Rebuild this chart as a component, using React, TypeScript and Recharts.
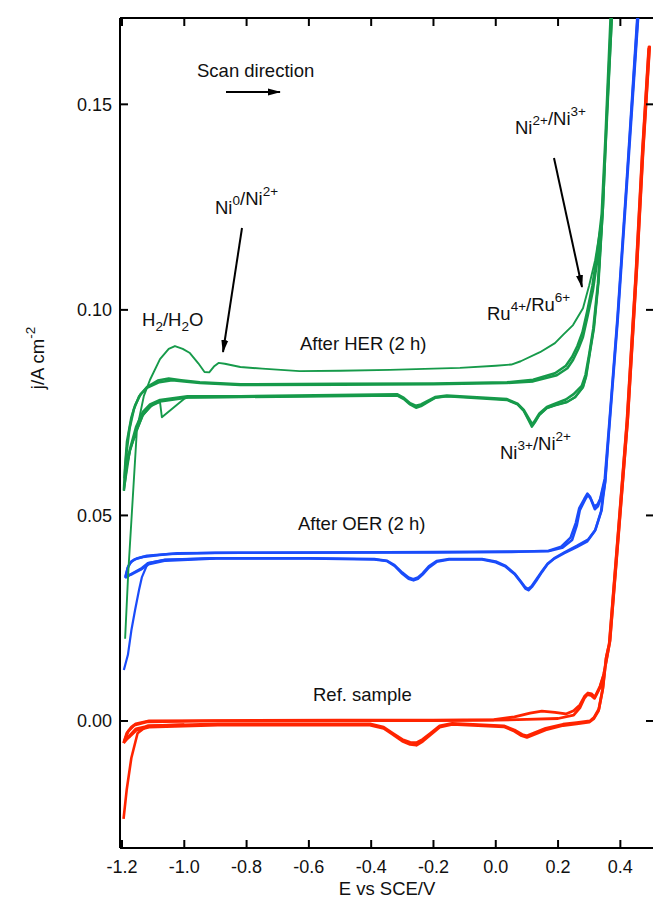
import React from "react";
import { LineChart, Line, XAxis, YAxis, ReferenceLine } from "recharts";

// potential (V vs SCE), current density (A cm^-2)
const xTicks = [-1.2, -1.0, -0.8, -0.6, -0.4, -0.2, 0.0, 0.2, 0.4];
const yTicks = [0.0, 0.05, 0.1, 0.15];

type P = { x: number; y: number };
const pts = (a: number[][]): P[] => a.map(([x, y]) => ({ x, y }));

// After HER (2 h) - first cycle, with the H2/H2O and Ni0/Ni2+ features
const greenFirst = pts([
  [-1.19, 0.020], [-1.18, 0.036], [-1.168, 0.051], [-1.152, 0.071], [-1.13, 0.079], [-1.11, 0.083],
  [-1.078, 0.088], [-1.05, 0.0905], [-1.03, 0.0912], [-1.005, 0.0905], [-0.982, 0.0895], [-0.955, 0.087],
  [-0.935, 0.0849], [-0.92, 0.0848], [-0.905, 0.0862], [-0.89, 0.0871], [-0.87, 0.0869], [-0.82, 0.0861],
  [-0.75, 0.0857], [-0.63, 0.0851], [-0.5, 0.0852], [-0.34, 0.0854], [-0.2, 0.0857], [-0.115, 0.0859],
  [0.0, 0.0864], [0.05, 0.0867], [0.08, 0.0875], [0.142, 0.0897], [0.19, 0.0919], [0.216, 0.0939],
  [0.248, 0.0963], [0.28, 0.1004], [0.3, 0.106], [0.319, 0.1121], [0.341, 0.1223], [0.357, 0.1466],
  [0.374, 0.172],
  [0.372, 0.172], [0.359, 0.150], [0.345, 0.125], [0.33, 0.107], [0.315, 0.0955], [0.302, 0.0895],
  [0.29, 0.0838], [0.28, 0.0812], [0.255, 0.0787], [0.229, 0.0776], [0.19, 0.0768], [0.164, 0.0761],
  [0.14, 0.0744], [0.125, 0.0727], [0.116, 0.0718], [0.105, 0.0733], [0.09, 0.0755], [0.07, 0.0771],
  [0.036, 0.0781], [-0.05, 0.0786], [-0.157, 0.079], [-0.195, 0.0786], [-0.22, 0.0776], [-0.24, 0.0767],
  [-0.258, 0.0764], [-0.275, 0.0771], [-0.295, 0.0784], [-0.317, 0.0792], [-0.5, 0.0791], [-0.82, 0.0788],
  [-0.988, 0.0787], [-1.0, 0.0784], [-1.072, 0.0739], [-1.078, 0.0776], [-1.1, 0.077], [-1.133, 0.0744],
  [-1.155, 0.070], [-1.174, 0.0659], [-1.194, 0.056],
]);

const greenCycle2 = pts([
  [-1.194, 0.056], [-1.19, 0.062], [-1.184, 0.068], [-1.17, 0.0738], [-1.158, 0.0768], [-1.14, 0.0795],
  [-1.12, 0.081], [-1.08, 0.0824], [-1.039, 0.0829], [-1.0, 0.0826], [-0.95, 0.0822], [-0.82, 0.0817],
  [-0.5, 0.0818], [-0.2, 0.0819], [0.036, 0.0822], [0.12, 0.0826], [0.196, 0.0841], [0.23, 0.0858],
  [0.248, 0.0878], [0.265, 0.0905], [0.28, 0.0934], [0.295, 0.0985], [0.312, 0.1048], [0.328, 0.113],
  [0.341, 0.1223], [0.357, 0.1466], [0.373, 0.172],
  [0.371, 0.172], [0.358, 0.150], [0.344, 0.125], [0.33, 0.107], [0.315, 0.0955], [0.302, 0.0895],
  [0.29, 0.0838], [0.28, 0.0812], [0.255, 0.0788], [0.229, 0.0776], [0.19, 0.0768], [0.164, 0.0761],
  [0.14, 0.0745], [0.125, 0.0726], [0.116, 0.0716], [0.106, 0.0731], [0.09, 0.0754], [0.07, 0.077],
  [0.036, 0.0781], [-0.157, 0.079], [-0.195, 0.0786], [-0.22, 0.0775], [-0.24, 0.0766], [-0.256, 0.0762],
  [-0.275, 0.077], [-0.295, 0.0783], [-0.317, 0.0792], [-0.82, 0.0788], [-0.988, 0.0787], [-1.078, 0.0777],
  [-1.11, 0.0765], [-1.133, 0.0744], [-1.155, 0.0705], [-1.174, 0.0659], [-1.185, 0.062], [-1.194, 0.056],
]);

const greenCycle3 = pts([
  [-1.192, 0.059], [-1.186, 0.065], [-1.176, 0.071], [-1.162, 0.0758], [-1.145, 0.079], [-1.12, 0.0812],
  [-1.085, 0.0828], [-1.05, 0.0833], [-1.01, 0.0829], [-0.95, 0.0824], [-0.82, 0.0819], [-0.5, 0.082],
  [-0.2, 0.0821], [0.036, 0.0824], [0.12, 0.083], [0.19, 0.0846], [0.225, 0.0864], [0.245, 0.0886],
  [0.262, 0.0912], [0.278, 0.0945], [0.293, 0.0995], [0.31, 0.1058], [0.326, 0.114], [0.34, 0.1233],
  [0.356, 0.148], [0.371, 0.172],
  [0.369, 0.172], [0.356, 0.149], [0.342, 0.124], [0.328, 0.1065], [0.313, 0.0955], [0.3, 0.0893],
  [0.288, 0.0842], [0.276, 0.0815], [0.25, 0.0795], [0.225, 0.0782], [0.19, 0.0772], [0.164, 0.0764],
  [0.14, 0.0748], [0.126, 0.0731], [0.117, 0.0722], [0.106, 0.0736], [0.09, 0.0757], [0.07, 0.0772],
  [0.036, 0.0783], [-0.157, 0.0792], [-0.195, 0.0788], [-0.22, 0.0778], [-0.24, 0.077], [-0.257, 0.0767],
  [-0.275, 0.0773], [-0.295, 0.0786], [-0.317, 0.0795], [-0.82, 0.079], [-0.99, 0.079], [-1.078, 0.0781],
  [-1.11, 0.077], [-1.133, 0.0752], [-1.155, 0.0715], [-1.172, 0.0668], [-1.184, 0.063], [-1.192, 0.059],
]);

// After OER (2 h)
const blueFirst = pts([
  [-1.194, 0.0124], [-1.181, 0.0161], [-1.17, 0.022], [-1.158, 0.027], [-1.145, 0.032], [-1.136, 0.035],
  [-1.117, 0.0384], [-1.062, 0.0392], [-0.9, 0.0396],
]);

const blueCycle1 = pts([
  [-1.19, 0.0348], [-1.182, 0.0372], [-1.174, 0.0384], [-1.16, 0.0393], [-1.133, 0.0399], [-1.08, 0.0404],
  [-1.023, 0.0408], [-0.82, 0.0409], [-0.5, 0.041], [-0.2, 0.0411], [0.05, 0.0412], [0.168, 0.0413],
  [0.213, 0.0421], [0.245, 0.044], [0.26, 0.0475], [0.27, 0.0513], [0.286, 0.0537], [0.296, 0.055],
  [0.305, 0.054], [0.318, 0.0515], [0.328, 0.0522], [0.335, 0.0537], [0.351, 0.0586], [0.367, 0.0737],
  [0.392, 0.098], [0.421, 0.1304], [0.458, 0.172],
  [0.456, 0.172], [0.42, 0.130], [0.391, 0.0975], [0.366, 0.0732], [0.352, 0.0585], [0.345, 0.0545],
  [0.34, 0.0513], [0.32, 0.0465], [0.296, 0.0441], [0.26, 0.0426], [0.222, 0.0411], [0.19, 0.0397],
  [0.168, 0.0384], [0.15, 0.0366], [0.13, 0.0344], [0.115, 0.0328], [0.104, 0.0321], [0.094, 0.0326],
  [0.08, 0.034], [0.06, 0.0359], [0.03, 0.0378], [0.0, 0.0388], [-0.044, 0.0394], [-0.15, 0.0394],
  [-0.19, 0.0389], [-0.215, 0.0376], [-0.235, 0.0359], [-0.25, 0.0349], [-0.265, 0.0345], [-0.28, 0.0349],
  [-0.3, 0.0361], [-0.325, 0.0379], [-0.35, 0.039], [-0.39, 0.0394], [-0.6, 0.0396], [-0.9, 0.0396],
  [-1.062, 0.0392], [-1.117, 0.0384], [-1.136, 0.0372], [-1.165, 0.036], [-1.19, 0.0348],
]);

const blueCycle2 = pts([
  [-1.188, 0.0352], [-1.18, 0.0376], [-1.17, 0.0388], [-1.15, 0.0396], [-1.12, 0.0402], [-1.05, 0.0406],
  [-0.9, 0.0409], [-0.5, 0.041], [-0.2, 0.041], [0.05, 0.0411], [0.17, 0.0414], [0.21, 0.0424],
  [0.24, 0.0446], [0.257, 0.0482], [0.268, 0.0518], [0.284, 0.054], [0.294, 0.0553], [0.303, 0.0545],
  [0.316, 0.0522], [0.327, 0.0527], [0.335, 0.054], [0.35, 0.059], [0.366, 0.074], [0.391, 0.0985],
  [0.42, 0.131], [0.457, 0.172],
  [0.455, 0.172], [0.419, 0.1298], [0.39, 0.097], [0.365, 0.0728], [0.351, 0.0582], [0.343, 0.0542],
  [0.338, 0.051], [0.318, 0.0462], [0.294, 0.0437], [0.258, 0.0422], [0.22, 0.0408], [0.188, 0.0395],
  [0.166, 0.0381], [0.148, 0.0362], [0.13, 0.0341], [0.116, 0.0326], [0.105, 0.0318], [0.095, 0.0322],
  [0.082, 0.0336], [0.062, 0.0356], [0.03, 0.0376], [0.0, 0.0386], [-0.044, 0.0393], [-0.15, 0.0393],
  [-0.19, 0.0387], [-0.215, 0.0373], [-0.235, 0.0356], [-0.25, 0.0346], [-0.264, 0.0342], [-0.28, 0.0346],
  [-0.3, 0.0358], [-0.325, 0.0377], [-0.35, 0.0389], [-0.39, 0.0393], [-0.6, 0.0395], [-0.9, 0.0395],
  [-1.06, 0.039], [-1.115, 0.0381], [-1.14, 0.0368], [-1.168, 0.0357], [-1.188, 0.0352],
]);

// Ref. sample
const redFirst = pts([
  [-1.195, -0.0238], [-1.185, -0.0168], [-1.17, -0.009], [-1.15, -0.003], [-1.12, -0.0012], [-1.0, -0.0009],
]);

const redCycle1 = pts([
  [-1.195, -0.0054], [-1.185, -0.003], [-1.17, -0.0015], [-1.156, -0.0007], [-1.113, 0.0], [-0.9, 0.0001],
  [-0.5, 0.0002], [-0.2, 0.0002], [-0.006, 0.0003], [0.06, 0.001], [0.11, 0.0019], [0.148, 0.0024],
  [0.19, 0.0021], [0.225, 0.0017], [0.25, 0.0025], [0.27, 0.0039], [0.285, 0.006], [0.296, 0.0068],
  [0.308, 0.0066], [0.318, 0.0058], [0.335, 0.0085], [0.347, 0.0114], [0.367, 0.0197], [0.395, 0.046],
  [0.424, 0.0737], [0.453, 0.1102], [0.473, 0.1386], [0.494, 0.164],
  [0.492, 0.164], [0.471, 0.1382], [0.451, 0.1098], [0.422, 0.0733], [0.393, 0.0455],
  [0.365, 0.019], [0.355, 0.0156], [0.344, 0.008], [0.331, 0.0029], [0.315, 0.0008], [0.302, 0.0],
  [0.26, -0.0004], [0.216, -0.0008], [0.16, -0.0018], [0.12, -0.003], [0.1, -0.0036], [0.085, -0.0033],
  [0.06, -0.0022], [0.026, -0.0012], [-0.14, -0.0006], [-0.18, -0.0012], [-0.21, -0.003], [-0.235, -0.0045],
  [-0.255, -0.0053], [-0.275, -0.0052], [-0.3, -0.0045], [-0.33, -0.003], [-0.36, -0.0015], [-0.404, -0.0007],
  [-0.892, -0.0007], [-1.113, -0.0012], [-1.155, -0.0019], [-1.175, -0.0035], [-1.195, -0.0054],
]);

const redCycle2 = pts([
  [-1.192, -0.0048], [-1.18, -0.0025], [-1.16, -0.001], [-1.12, -0.0002], [-0.9, 0.0], [-0.5, 0.0001],
  [-0.2, 0.0001], [0.0, 0.0002], [0.1, 0.0004], [0.2, 0.0006], [0.25, 0.0014], [0.27, 0.0032],
  [0.284, 0.0055], [0.294, 0.0064], [0.306, 0.0062], [0.317, 0.0055], [0.334, 0.008], [0.346, 0.011],
  [0.366, 0.0192], [0.394, 0.0455], [0.423, 0.073], [0.452, 0.1095], [0.472, 0.138], [0.493, 0.1635],
  [0.491, 0.1635], [0.47, 0.1378], [0.45, 0.1092], [0.421, 0.0728], [0.392, 0.045],
  [0.364, 0.0186], [0.354, 0.0152], [0.343, 0.0076], [0.33, 0.0025], [0.314, 0.0005], [0.3, -0.0003],
  [0.26, -0.0007], [0.216, -0.0011], [0.16, -0.0022], [0.12, -0.0034], [0.1, -0.004], [0.083, -0.0036],
  [0.06, -0.0025], [0.026, -0.0014], [-0.14, -0.0008], [-0.18, -0.0015], [-0.21, -0.0034], [-0.235, -0.005],
  [-0.255, -0.0059], [-0.275, -0.0057], [-0.3, -0.0049], [-0.33, -0.0033], [-0.36, -0.0018], [-0.404, -0.001],
  [-0.892, -0.001], [-1.113, -0.0015], [-1.155, -0.0023], [-1.175, -0.0038], [-1.192, -0.0048],
]);

const GREEN = "#169a4a";
const BLUE = "#1a4cfa";
const RED = "#ff2400";
const FONT = "'Liberation Sans', Arial, sans-serif";

const axisLine = { stroke: "#000", strokeWidth: 2 };
const xDomain: [number, number] = [-1.2064, 0.508];
const yDomain: [number, number] = [-0.0309, 0.171];

// chart box (must match LineChart size / margins / YAxis width below)
const CH_W = 664;
const MARGIN = { top: 18, right: 10, bottom: 0, left: 0 };
const Y_W = 120;
const X_H = 56;
const plot = {
  left: MARGIN.left + Y_W,
  right: CH_W - MARGIN.right,
  top: MARGIN.top,
  bottom: 904 - MARGIN.bottom - X_H,
};
const sx = (v: number) => plot.left + ((v - xDomain[0]) / (xDomain[1] - xDomain[0])) * (plot.right - plot.left);
const sy = (v: number) => plot.top + ((yDomain[1] - v) / (yDomain[1] - yDomain[0])) * (plot.bottom - plot.top);

// inward tick marks drawn by each axis' tick renderer (tickSize 0, tickMargin M)
const M = 14;
const TL = 8;
const lbl = { fontSize: 18, fill: "#111", fontFamily: FONT };

function BottomTick(p: any) {
  const ay = p.y - M;
  return (
    <g>
      <line x1={p.x} y1={ay} x2={p.x} y2={ay - TL} stroke="#000" strokeWidth={2} />
      <text x={p.x} y={ay + 25} textAnchor="middle" {...lbl}>{Number(p.payload.value).toFixed(1)}</text>
    </g>
  );
}
function LeftTick(p: any) {
  const ax = p.x + M;
  return (
    <g>
      <line x1={ax} y1={p.y} x2={ax + TL} y2={p.y} stroke="#000" strokeWidth={2} />
      <text x={ax - 8} y={p.y + 6.5} textAnchor="end" {...lbl}>{Number(p.payload.value).toFixed(2)}</text>
    </g>
  );
}

const series: { data: P[]; color: string; width: number }[] = [
  { data: redFirst, color: RED, width: 2.6 },
  { data: redCycle1, color: RED, width: 2.8 },
  { data: redCycle2, color: RED, width: 2.8 },
  { data: blueFirst, color: BLUE, width: 2.2 },
  { data: blueCycle1, color: BLUE, width: 2.5 },
  { data: blueCycle2, color: BLUE, width: 2.5 },
  { data: greenFirst, color: GREEN, width: 1.9 },
  { data: greenCycle2, color: GREEN, width: 2.5 },
  { data: greenCycle3, color: GREEN, width: 2.5 },
];

function Sup({ base, sup, dy = 9 }: { base: string; sup: string; dy?: number }) {
  return (
    <>
      <tspan>{base}</tspan>
      <tspan dy={-dy} fontSize={13.5}>{sup}</tspan>
      <tspan dy={dy}></tspan>
    </>
  );
}

function Annotations() {
  const t = { fontSize: 18.5, fill: "#111", fontFamily: FONT };
  return (
    <svg width={653} height={904} style={{ position: "absolute", left: 0, top: 0, pointerEvents: "none" }}>
      <defs>
        <marker id="ah" markerWidth="13" markerHeight="8" refX="12" refY="4" orient="auto" markerUnits="userSpaceOnUse">
          <path d="M0,0.5 L13,4 L0,7.5 z" fill="#000" />
        </marker>
      </defs>

      {/* mirrored inward ticks on the top and right edges of the box */}
      {xTicks.map((v) => (
        <line key={"tt" + v} x1={sx(v)} y1={plot.top} x2={sx(v)} y2={plot.top + TL} stroke="#000" strokeWidth={2} />
      ))}
      {yTicks.map((v) => (
        <line key={"rt" + v} x1={plot.right} y1={sy(v)} x2={plot.right - TL} y2={sy(v)} stroke="#000" strokeWidth={2} />
      ))}

      <text x={197} y={77} {...t}>Scan direction</text>
      <line x1={226} y1={92} x2={280} y2={92} stroke="#000" strokeWidth={2} markerEnd="url(#ah)" />

      <text x={215} y={214} {...t}>
        <Sup base="Ni" sup="0" />
        <Sup base="/Ni" sup="2+" />
      </text>
      <line x1={242} y1={228} x2={223} y2={352} stroke="#000" strokeWidth={2} markerEnd="url(#ah)" />

      <text x={515} y={134} {...t}>
        <Sup base="Ni" sup="2+" />
        <Sup base="/Ni" sup="3+" />
      </text>
      <line x1={554} y1={158} x2={582} y2={287} stroke="#000" strokeWidth={2} markerEnd="url(#ah)" />

      <text x={487} y={320} {...t}>
        <Sup base="Ru" sup="4+" />
        <Sup base="/Ru" sup="6+" />
      </text>

      <text x={142} y={326} {...t}>
        <tspan>H</tspan>
        <tspan dy={5} fontSize={13.5}>2</tspan>
        <tspan dy={-5}>/H</tspan>
        <tspan dy={5} fontSize={13.5}>2</tspan>
        <tspan dy={-5}>O</tspan>
      </text>

      <text x={300} y={350} {...t}>After HER (2 h)</text>

      <text x={500} y={459} {...t}>
        <Sup base="Ni" sup="3+" />
        <Sup base="/Ni" sup="2+" />
      </text>

      <text x={298} y={530} {...t}>After OER (2 h)</text>
      <text x={313} y={701} {...t}>Ref. sample</text>

      <text x={387} y={895} textAnchor="middle" {...t}>E vs SCE/V</text>
      <text x={0} y={0} transform="translate(44,358) rotate(-90)" textAnchor="middle" {...t}>
        <tspan>j/A cm</tspan>
        <tspan dy={-9} fontSize={13.5}>-2</tspan>
      </text>
    </svg>
  );
}

export default function App() {
  const frame = { xAxisId: "b", yAxisId: "l", stroke: "#000", strokeWidth: 2 };
  return (
    <div
      style={{
        position: "absolute", left: 0, top: 0, width: 653, height: 904,
        overflow: "hidden", background: "#fff", fontFamily: FONT,
      }}
    >
      <LineChart width={CH_W} height={904} margin={MARGIN}>
        <XAxis
          xAxisId="b" type="number" dataKey="x" domain={xDomain} ticks={xTicks} allowDataOverflow
          height={X_H} tickSize={0} tickMargin={M} axisLine={axisLine} tickLine={false} tick={<BottomTick />}
        />
        <YAxis
          yAxisId="l" type="number" domain={yDomain} ticks={yTicks} allowDataOverflow width={Y_W}
          tickSize={0} tickMargin={M} axisLine={axisLine} tickLine={false} tick={<LeftTick />}
        />
        {/* box frame: bottom, top and right edges */}
        <ReferenceLine {...frame} y={yDomain[0]} />
        <ReferenceLine {...frame} y={yDomain[1]} />
        <ReferenceLine {...frame} x={xDomain[1]} />
        {series.map((s, i) => (
          <Line
            key={i} xAxisId="b" yAxisId="l" data={s.data} dataKey="y" type="linear"
            stroke={s.color} strokeWidth={s.width} dot={false} activeDot={false}
            isAnimationActive={false} strokeLinejoin="round"
          />
        ))}
      </LineChart>
      <Annotations />
    </div>
  );
}
